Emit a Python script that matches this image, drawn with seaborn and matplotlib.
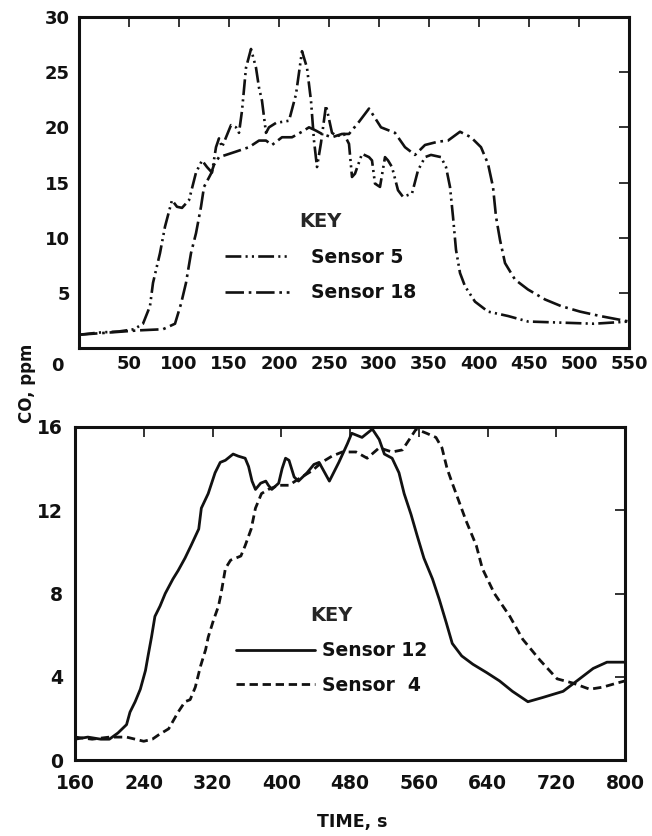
import matplotlib
matplotlib.use("Agg")
import matplotlib.pyplot as plt
import seaborn as sns
import pandas as pd

# ---------------- data ----------------
# Top panel: CO (ppm) vs time (s)
s5_t = [0, 20, 40, 55, 64, 71, 74, 81, 86, 93, 98, 103, 110, 117, 123, 128, 133,
        137, 140, 143, 152, 157, 160, 163, 167, 172, 177, 180, 183, 187, 190, 197,
        210, 217, 223, 228, 232, 235, 238, 242, 247, 253, 258, 265, 270, 273, 276,
        283, 290, 293, 296, 301, 306, 309, 313, 319, 324, 333, 339, 346, 352, 362,
        367, 371, 374, 377, 381, 386, 396, 409, 429, 449, 482, 515, 550]
s5_v = [1.2, 1.4, 1.5, 1.7, 2.2, 3.8, 5.9, 8.6, 11.0, 13.4, 12.8, 12.7, 13.4, 15.9,
        17.0, 16.4, 15.9, 18.2, 19.0, 18.2, 20.2, 20.0, 19.5, 21.5, 25.4, 27.1, 25.4,
        23.6, 22.4, 19.5, 20.0, 20.4, 20.6, 23.0, 26.9, 25.4, 22.4, 18.8, 16.4, 18.6,
        22.0, 19.5, 19.2, 19.4, 18.5, 15.5, 15.8, 17.6, 17.3, 17.0, 14.9, 14.6, 17.3,
        17.0, 16.4, 14.3, 13.7, 14.0, 16.1, 17.3, 17.5, 17.3, 16.4, 14.6, 11.9, 8.9,
        6.8, 5.6, 4.2, 3.3, 2.9, 2.4, 2.3, 2.2, 2.4]

s18_t = [0, 30, 60, 84, 96, 102, 107, 112, 117, 122, 125, 132, 135, 140, 147, 157,
         170, 180, 187, 193, 203, 213, 223, 230, 237, 243, 253, 263, 270, 280, 290,
         302, 316, 326, 336, 346, 359, 369, 381, 392, 402, 409, 414, 417, 421, 426,
         436, 449, 466, 482, 501, 521, 550]
s18_v = [1.2, 1.4, 1.6, 1.7, 2.2, 4.0, 5.9, 8.6, 10.4, 12.8, 14.6, 15.8, 16.6, 17.3,
         17.5, 17.8, 18.2, 18.8, 18.8, 18.4, 19.1, 19.1, 19.6, 20.0, 19.7, 19.4, 19.1,
         19.4, 19.4, 20.5, 21.7, 20.0, 19.5, 18.2, 17.5, 18.4, 18.7, 18.8, 19.6, 19.1,
         18.2, 16.7, 14.6, 11.9, 9.8, 7.7, 6.2, 5.3, 4.4, 3.8, 3.3, 2.9, 2.4]

# Bottom panel
s12_t = [160, 175, 190, 200, 210, 220, 224, 230, 236, 242, 245, 249, 253, 259, 265,
         274, 280, 288, 295, 304, 307, 315, 323, 329, 335, 344, 350, 358, 362, 366,
         370, 376, 382, 385, 389, 397, 401, 405, 409, 415, 420, 430, 438, 444, 456,
         467, 477, 482, 494, 506, 514, 520, 529, 537, 543, 551, 558, 566, 576, 584,
         592, 599, 610, 623, 639, 654, 669, 687, 704, 728, 744, 763, 779, 800]
s12_v = [1.0, 1.1, 1.0, 1.0, 1.3, 1.7, 2.3, 2.8, 3.4, 4.3, 5.0, 5.9, 6.9, 7.4, 8.0,
         8.7, 9.1, 9.7, 10.3, 11.1, 12.1, 12.8, 13.8, 14.3, 14.4, 14.7, 14.6, 14.5,
         14.1, 13.4, 13.0, 13.3, 13.4, 13.2, 13.0, 13.3, 14.0, 14.5, 14.4, 13.6, 13.4,
         13.8, 14.2, 14.3, 13.4, 14.3, 15.2, 15.7, 15.5, 15.9, 15.4, 14.7, 14.5, 13.8,
         12.8, 11.8, 10.8, 9.7, 8.7, 7.7, 6.6, 5.6, 5.0, 4.6, 4.2, 3.8, 3.3, 2.8, 3.0,
         3.3, 3.8, 4.4, 4.7, 4.7]

s4_t = [160, 180, 200, 220, 240, 250, 257, 269, 280, 288, 294, 300, 306, 312, 315,
        321, 327, 330, 335, 341, 353, 358, 365, 370, 377, 385, 397, 409, 420, 436,
        447, 459, 471, 487, 500, 514, 529, 541, 549, 557, 569, 580, 587, 593, 599,
        607, 615, 627, 634, 648, 666, 681, 701, 721, 739, 759, 774, 791, 800]
s4_v = [1.1, 1.0, 1.1, 1.1, 0.9, 1.0, 1.2, 1.5, 2.3, 2.8, 2.9, 3.5, 4.5, 5.3, 5.9,
        6.7, 7.4, 8.0, 9.2, 9.6, 9.8, 10.3, 11.1, 12.1, 12.8, 13.0, 13.2, 13.2, 13.5,
        13.9, 14.3, 14.6, 14.8, 14.8, 14.5, 15.0, 14.8, 14.9, 15.4, 15.9, 15.7, 15.5,
        15.0, 14.0, 13.3, 12.4, 11.5, 10.3, 9.2, 8.0, 6.9, 5.8, 4.8, 3.9, 3.7, 3.4,
        3.5, 3.7, 3.8]

top_xticks = [50, 100, 150, 200, 250, 300, 350, 400, 450, 500, 550]
top_yticks = [5, 10, 15, 20, 25, 30]
bot_xticks = [160, 240, 320, 400, 480, 560, 640, 720, 800]
bot_yticks = [0, 4, 8, 12, 16]

top_df = pd.concat([
    pd.DataFrame({"time": s5_t, "co": s5_v, "sensor": "Sensor 5"}),
    pd.DataFrame({"time": s18_t, "co": s18_v, "sensor": "Sensor 18"}),
])
bot_df = pd.concat([
    pd.DataFrame({"time": s12_t, "co": s12_v, "sensor": "Sensor 12"}),
    pd.DataFrame({"time": s4_t, "co": s4_v, "sensor": "Sensor  4"}),
])

# ---------------- styling ----------------
sns.set_theme(style="white")
plt.rcParams["font.family"] = ["DejaVu Sans"]
plt.rcParams["font.weight"] = "bold"

W, H = 652, 836
fig = plt.figure(figsize=(W / 100, H / 100), dpi=100)
ax1 = fig.add_axes([79 / W, 1 - 348 / H, 550 / W, 331 / H])
ax2 = fig.add_axes([75 / W, 1 - 760 / H, 550 / W, 333 / H])

ink = "#111111"
styles_top = {
    "Sensor 5": (0, (6, 1.6, 0.8, 1.6, 0.8, 1.6)),
    "Sensor 18": (0, (7, 1.8, 1.0, 1.8)),
}
styles_bot = {
    "Sensor 12": "-",
    "Sensor  4": (0, (3.0, 1.7)),
}

for name, ls in styles_top.items():
    sub = top_df[top_df["sensor"] == name]
    sns.lineplot(data=sub, x="time", y="co", ax=ax1, color=ink, linewidth=1.9,
                 linestyle=ls, label=name, sort=False, estimator=None)
for name, ls in styles_bot.items():
    sub = bot_df[bot_df["sensor"] == name]
    sns.lineplot(data=sub, x="time", y="co", ax=ax2, color=ink, linewidth=2.0,
                 linestyle=ls, label=name, sort=False, estimator=None)

# axes limits / ticks
ax1.set_xlim(0, 550)
ax1.set_ylim(0, 30)
ax1.set_xticks(top_xticks)
ax1.set_xticklabels([str(v) for v in top_xticks])
ax1.set_yticks(top_yticks)
ax1.set_yticklabels([str(v) for v in top_yticks])

ax2.set_xlim(160, 800)
ax2.set_ylim(0, 16)
ax2.set_xticks(bot_xticks)
ax2.set_xticklabels([str(v) for v in bot_xticks])
ax2.set_yticks(bot_yticks)
ax2.set_yticklabels([str(v) for v in bot_yticks])

for ax in (ax1, ax2):
    ax.set_xlabel("")
    ax.set_ylabel("")
    for sp in ax.spines.values():
        sp.set_visible(True)
        sp.set_color(ink)
        sp.set_linewidth(2.2)
    ax.tick_params(axis="both", which="major", direction="in", length=7,
                   width=1.2, color=ink, top=True, right=True,
                   labelcolor=ink, labelsize=13)

ax1.tick_params(axis="x", pad=5)
ax1.tick_params(axis="y", pad=6.5)
ax2.tick_params(axis="x", pad=10, labelsize=13.5)
ax2.tick_params(axis="y", pad=8.5, labelsize=13.5)

# stray origin label of the top panel
fig.text(57 / W, 1 - 366 / H, "0", ha="center", va="center", fontsize=13,
         color=ink, fontweight="bold")

# legends ("KEY")
leg1 = ax1.legend(title="KEY", loc="upper left", bbox_to_anchor=(0.265, 0.412),
                  frameon=False, fontsize=13.5, title_fontsize=14,
                  handlelength=3.4, handletextpad=1.2, labelspacing=0.9,
                  borderpad=0, borderaxespad=0)
leg2 = ax2.legend(title="KEY", loc="upper left", bbox_to_anchor=(0.293, 0.462),
                  frameon=False, fontsize=13.5, title_fontsize=14,
                  handlelength=4.2, handletextpad=0.4, labelspacing=0.85,
                  borderpad=0, borderaxespad=0)
for leg in (leg1, leg2):
    leg.get_title().set_fontweight("bold")
    for t in leg.get_texts():
        t.set_color(ink)

# axis titles
fig.text(27 / W, 1 - 383 / H, "CO, ppm", rotation=90, ha="center", va="center",
         fontsize=12, color=ink, fontweight="bold")
fig.text(352 / W, 1 - 822 / H, "TIME, s", ha="center", va="center",
         fontsize=12.5, color=ink, fontweight="bold")

fig.savefig("out.png", dpi=100, facecolor="white")
